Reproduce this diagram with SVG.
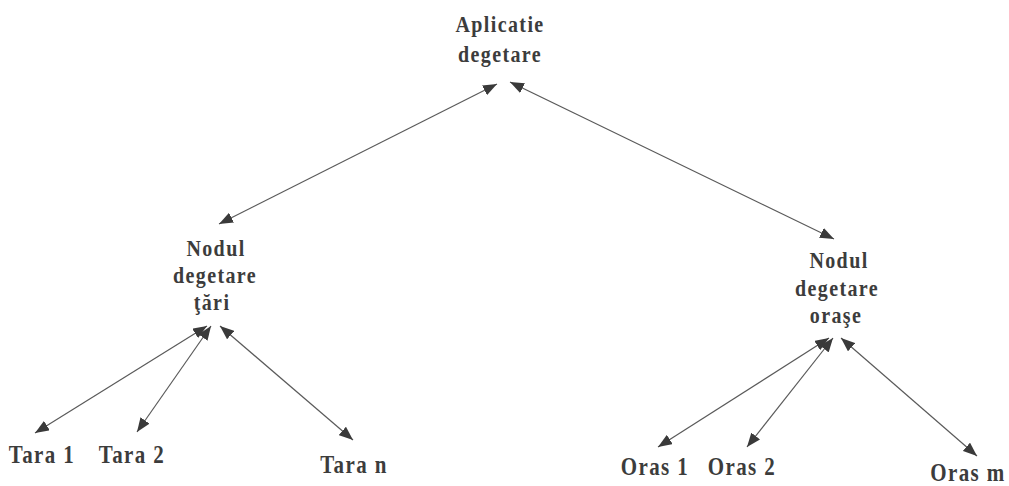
<svg xmlns="http://www.w3.org/2000/svg" width="1009" height="486" viewBox="0 0 1009 486">
<style>
  .t { font-family: "Liberation Serif", "Times New Roman", serif; font-size: 20px; font-weight: bold; fill: #3c3c3c; text-anchor: middle; letter-spacing: 1.4px; }
  .leaf { font-size: 21px; }
  .c line { stroke: #5a5a5a; stroke-width: 1.2; marker-start: url(#ah); marker-end: url(#ah); }
</style>
<defs>
  <marker id="ah" markerUnits="userSpaceOnUse" markerWidth="14" markerHeight="11" refX="14" refY="5.5" orient="auto-start-reverse">
    <path d="M0,0 L14,5.5 L0,11 z" fill="#3a3a3a"/>
  </marker>
</defs>
<rect width="1009" height="486" fill="#ffffff"/>
<g id="connectors" class="c">
  <line x1="497" y1="84" x2="219" y2="224"/>
  <line x1="510" y1="82" x2="834" y2="239"/>
  <line x1="207" y1="326" x2="35" y2="433"/>
  <line x1="211" y1="326" x2="137" y2="432"/>
  <line x1="220" y1="326" x2="353" y2="440"/>
  <line x1="829" y1="338" x2="658" y2="447"/>
  <line x1="833" y1="338" x2="747" y2="447"/>
  <line x1="841" y1="338" x2="977" y2="456"/>
</g>
<g id="root">
  <text class="t" transform="translate(500,32) scale(1,1.2)">Aplicatie</text>
  <text class="t" transform="translate(500,62) scale(1,1.2)">degetare</text>
</g>
<g id="node-tari">
  <text class="t" transform="translate(216,256) scale(1,1.2)">Nodul</text>
  <text class="t" transform="translate(215,283) scale(1,1.2)">degetare</text>
  <text class="t" transform="translate(212,310) scale(1,1.2)">ţări</text>
</g>
<g id="node-orase">
  <text class="t" transform="translate(839,268) scale(1,1.2)">Nodul</text>
  <text class="t" transform="translate(837,296) scale(1,1.2)">degetare</text>
  <text class="t" transform="translate(836,323) scale(1,1.2)">oraşe</text>
</g>
<g id="tara1"><text class="t leaf" transform="translate(42,463) scale(1,1.2)">Tara 1</text></g>
<g id="tara2"><text class="t leaf" transform="translate(132,463) scale(1,1.2)">Tara 2</text></g>
<g id="taran"><text class="t leaf" transform="translate(354,473) scale(1,1.2)">Tara n</text></g>
<g id="oras1"><text class="t leaf" transform="translate(655,475) scale(1,1.2)">Oras 1</text></g>
<g id="oras2"><text class="t leaf" transform="translate(742,475) scale(1,1.2)">Oras 2</text></g>
<g id="orasm"><text class="t leaf" transform="translate(968,481) scale(1,1.2)">Oras m</text></g>
</svg>
